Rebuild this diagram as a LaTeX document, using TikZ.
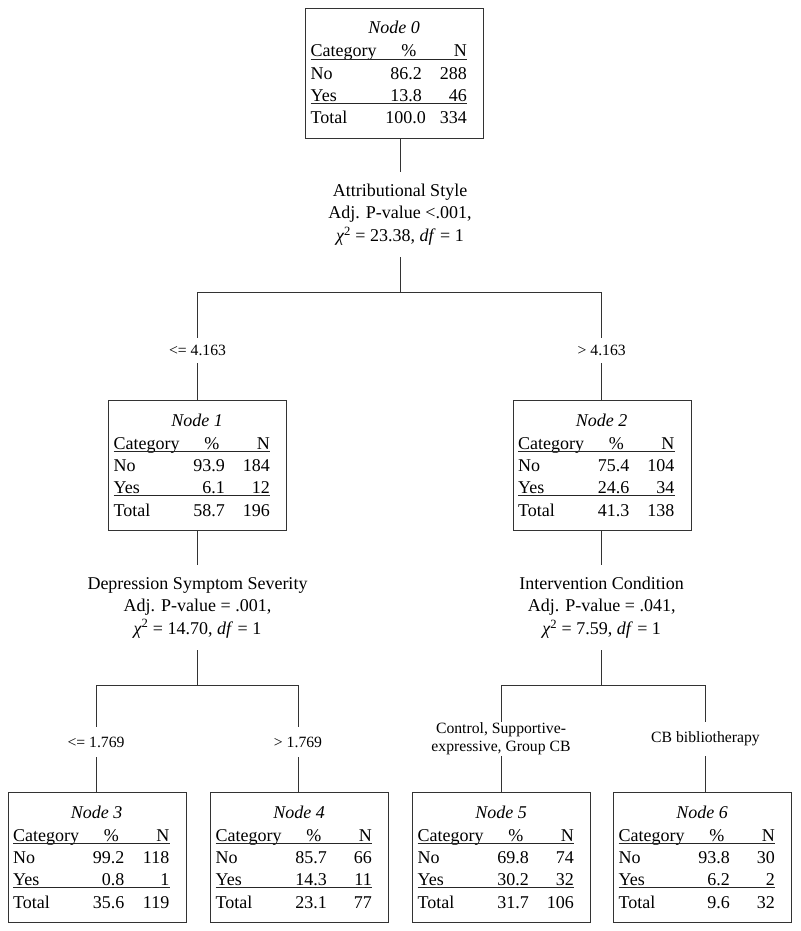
\documentclass[tikz,border=0pt]{standalone}
\usepackage{fontspec}
\setmainfont{Liberation Serif}
\newcommand\tfbig{\fontsize{18}{22.5}\selectfont}
\newcommand\tflab{\fontsize{15.7}{18}\selectfont}
\tikzset{
 cbox/.style={draw=black!80, line width=1pt, minimum width=178pt, minimum height=130pt, inner sep=0pt, anchor=north west},
 lt/.style={anchor=base west, inner sep=0pt, font=\tfbig},
 rt/.style={anchor=base east, inner sep=0pt, font=\tfbig},
 ttl/.style={anchor=base, inner sep=0pt, font=\tfbig\itshape},
 uline/.style={draw=black!85, line width=0.8pt},
 uline2/.style={draw=black!85, line width=1.2pt},
 conn/.style={draw=black!80, line width=1pt},
 split/.style={inner sep=0pt, minimum height=85pt, align=center, font=\tfbig},
 lab/.style={inner sep=0pt, align=center, font=\tflab},
}
\newcommand\ctnode[9]{%
 \node[cbox] (n#1) at (#2,#3) {};
 \begin{scope}[shift={(#2,#3)}]
  \node[ttl] (n#1-t) at (89,26) {Node #1};
  \node[lt] (n#1-c) at (5.5,49) {Category};
  \node[rt] (n#1-p) at (111.5,49) {\%};
  \node[rt] (n#1-n) at (162,49) {N};
  \draw[uline] (5.5,51) -- (162,51);
  \node[lt] (n#1-r1) at (5.5,71.5) {No};
  \node[rt] (n#1-r1p) at (117,71.5) {#4};
  \node[rt] (n#1-r1n) at (162,71.5) {#5};
  \node[lt] (n#1-r2) at (5.5,93.5) {Yes};
  \node[rt] (n#1-r2p) at (117,93.5) {#6};
  \node[rt] (n#1-r2n) at (162,93.5) {#7};
  \draw[uline2] (5.5,95.5) -- (162,95.5);
  \node[lt] (n#1-r3) at (5.5,116) {Total};
  \node[rt] (n#1-r3p) at (117,116) {#8};
  \node[rt] (n#1-r3n) at (162,116) {#9};
 \end{scope}}
\begin{document}
\begin{tikzpicture}[x=1pt,y=-1pt]
\useasboundingbox (0,0) rectangle (800,931);
\ctnode{0}{305}{8}{86.2}{288}{13.8}{46}{100.0\kern-4pt}{334}
\ctnode{1}{108}{400}{93.9}{184}{6.1}{12}{58.7}{196}
\ctnode{2}{512.5}{400}{75.4}{104}{24.6}{34}{41.3}{138}
\ctnode{3}{7.5}{792}{99.2}{118}{0.8}{1}{35.6}{119}
\ctnode{4}{210}{792}{85.7}{66}{14.3}{11}{23.1}{77}
\ctnode{5}{412}{792}{69.8}{74}{30.2}{32}{31.7}{106}
\ctnode{6}{613}{792}{93.8}{30}{6.2}{2}{9.6}{32}

\node[split] (s0) at (400,214.5) {Attributional Style\\Adj. P-value <.001,\\{\itshape χ}\textsuperscript{2} = 23.38, \textit{df} = 1};
\node[split] (s1) at (197.5,607.5) {Depression Symptom Severity\\Adj. P-value = .001,\\{\itshape χ}\textsuperscript{2} = 14.70, \textit{df} = 1};
\node[split] (s2) at (601.7,607.5) {Intervention Condition\\Adj. P-value = .041,\\{\itshape χ}\textsuperscript{2} = 7.59, \textit{df} = 1};

\coordinate (h0) at (400,292.5);
\coordinate (h1) at (197.5,685);
\coordinate (h2) at (601.7,685);

\node[lab, minimum height=25pt] (l1) at (197.5,350.5) {<= 4.163};
\node[lab, minimum height=25pt] (l2) at (601.7,350.5) {> 4.163};
\node[lab, minimum height=30pt] (l3) at (96,742) {<= 1.769};
\node[lab, minimum height=30pt] (l4) at (298,742) {> 1.769};
\node[lab, minimum height=34pt] (l5) at (501,739) {Control, Supportive-\\expressive, Group CB};
\node[lab, minimum height=34pt] (l6) at (705.5,739) {CB bibliotherapy};

\draw[conn] (n0.south -| s0) -- (s0.north);
\draw[conn] (s0.south) -- (h0);
\draw[conn] (l1.north) -- (l1.north |- h0) -- (l2.north |- h0) -- (l2.north);
\draw[conn] (l1.south) -- (l1.south |- n1.north);
\draw[conn] (l2.south) -- (l2.south |- n2.north);

\draw[conn] (n1.south -| s1) -- (s1.north);
\draw[conn] (s1.south) -- (h1);
\draw[conn] (l3.north) -- (l3.north |- h1) -- (l4.north |- h1) -- (l4.north);
\draw[conn] (l3.south) -- (l3.south |- n3.north);
\draw[conn] (l4.south) -- (l4.south |- n4.north);

\draw[conn] (n2.south -| s2) -- (s2.north);
\draw[conn] (s2.south) -- (h2);
\draw[conn] (l5.north) -- (l5.north |- h2) -- (l6.north |- h2) -- (l6.north);
\draw[conn] (l5.south) -- (l5.south |- n5.north);
\draw[conn] (l6.south) -- (l6.south |- n6.north);
\end{tikzpicture}
\end{document}
